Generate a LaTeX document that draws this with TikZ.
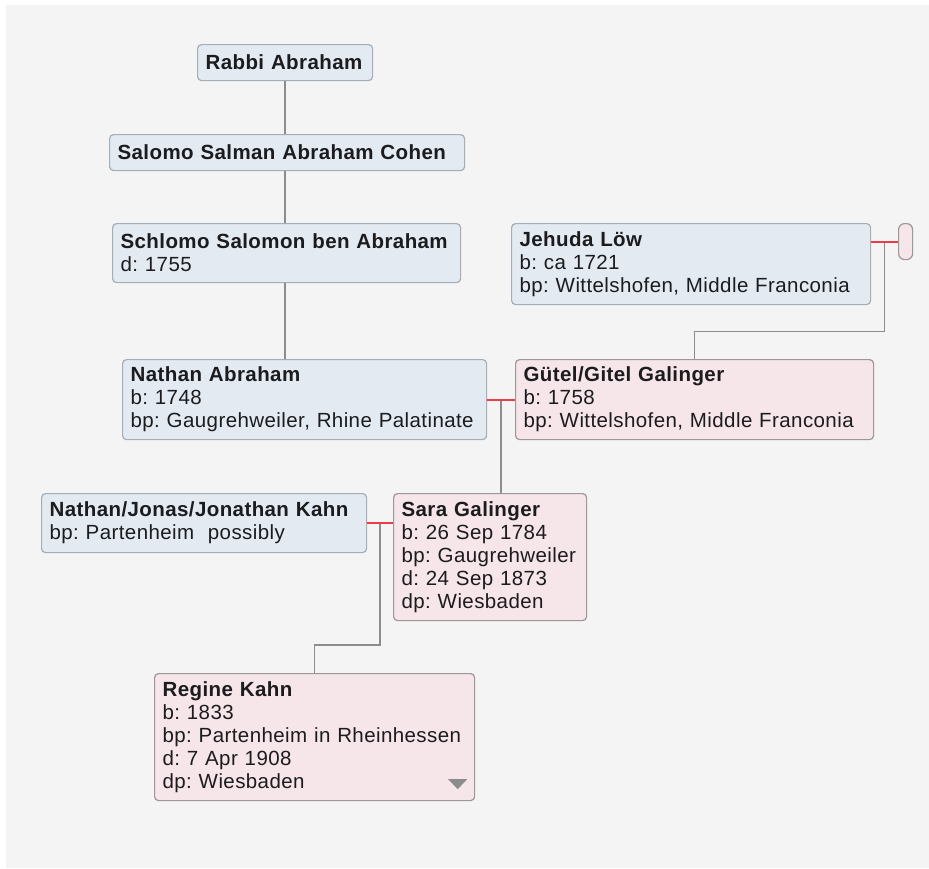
\documentclass[tikz,border=0pt]{standalone}
\usepackage{fontspec}
\setmainfont[LetterSpace=2]{Liberation Sans}
\usetikzlibrary{calc}
\frenchspacing
\definecolor{bgrey}{HTML}{F4F4F4}
\definecolor{ink}{HTML}{1C1C1E}
\definecolor{mfill}{HTML}{E3EAF2}
\definecolor{mline}{HTML}{A5ADB6}
\definecolor{ffill}{HTML}{F6E5E9}
\definecolor{fline}{HTML}{9E9698}
\definecolor{wed}{HTML}{EC3C46}
\definecolor{kin}{HTML}{8C8C8C}
\tikzset{
  card/.style={rounded corners=4pt, line width=1.2pt, anchor=north west, align=left,
    inner xsep=8pt, inner ysep=0pt, text=ink, font=\fontsize{20.5}{23}\selectfont},
  male/.style={card, fill=mfill, draw=mline},
  female/.style={card, fill=ffill, draw=fline},
  couple/.style={draw=wed, line width=2pt},
  descent/.style={draw=kin, line width=1.6pt},
}
\begin{document}
\begin{tikzpicture}[x=1pt,y=-1pt]
		\fill[white] (0,0) rectangle (929,868);
		\fill[bgrey] (6,5) rectangle (929,868);
		%people
		\node[male, text width=159pt, minimum height=36pt] (rabbi) at (197,44) {\textbf{Rabbi Abraham}};
		\node[male, text width=339pt, minimum height=36pt] (salomo) at (109,134) {\textbf{Salomo Salman Abraham Cohen}};
		\node[male, text width=332pt, minimum height=59pt] (schlomo) at (112,223) {\textbf{Schlomo Salomon ben Abraham}\\d: 1755};
		\node[male, text width=348pt, minimum height=80pt] (nathan) at (122,359) {\textbf{Nathan Abraham}\\b: 1748\\bp: Gaugrehweiler, Rhine Palatinate};
		\node[male, text width=343pt, minimum height=81pt] (jehuda) at (511,223) {\textbf{Jehuda Löw}\\b: ca 1721\\bp: Wittelshofen, Middle Franconia};
		\node[female, inner sep=0pt, minimum width=14pt, minimum height=36pt, rounded corners=6pt] (wife) at (898,223) {};
		\node[female, text width=342pt, minimum height=80pt] (gutel) at (515,359) {\textbf{Gütel/Gitel Galinger}\\b: 1758\\bp: Wittelshofen, Middle Franconia};
		\node[male, text width=309pt, minimum height=59pt] (kahn) at (41,493) {\textbf{Nathan/Jonas/Jonathan Kahn}\\bp: Partenheim\ \ possibly};
		\node[female, text width=177pt, minimum height=127pt] (sara) at (393,493) {\textbf{Sara Galinger}\\b: 26 Sep 1784\\bp: Gaugrehweiler\\d: 24 Sep 1873\\dp: Wiesbaden};
		\node[female, text width=304pt, minimum height=127pt] (regine) at (154,673) {\textbf{Regine Kahn}\\b: 1833\\bp: Partenheim in Rheinhessen\\d: 7 Apr 1908\\dp: Wiesbaden};
		\fill[kin] ($(regine.south east)+(-27,-22)$) -- ++(19,0) -- ++(-9.5,10) -- cycle;
		%fathers line
		\draw[descent] (rabbi.south) -- (rabbi.south |- salomo.north);
		\draw[descent] (rabbi.south |- salomo.south) -- (rabbi.south |- schlomo.north);
		\draw[descent] (rabbi.south |- schlomo.south) -- (rabbi.south |- nathan.north);
		%marriages and children
		\coordinate (m1) at ($(jehuda.east |- wife.west)!0.5!(wife.west)$);
		\draw[descent] (m1) -- ++(0,90) -| (gutel.north);
		\draw[couple] (jehuda.east |- wife.west) -- (wife.west);
		\coordinate (m2) at ($(nathan.east)!0.5!(gutel.west |- nathan.east)$);
		\draw[descent] (m2) -- (m2 |- sara.north);
		\draw[couple] (nathan.east) -- (gutel.west |- nathan.east);
		\coordinate (m3) at ($(kahn.east)!0.5!(sara.west |- kahn.east)$);
		\draw[descent] (m3) -- ++(0,122) -| (regine.north);
		\draw[couple] (kahn.east) -- (sara.west |- kahn.east);
		\end{tikzpicture}
\end{document}
